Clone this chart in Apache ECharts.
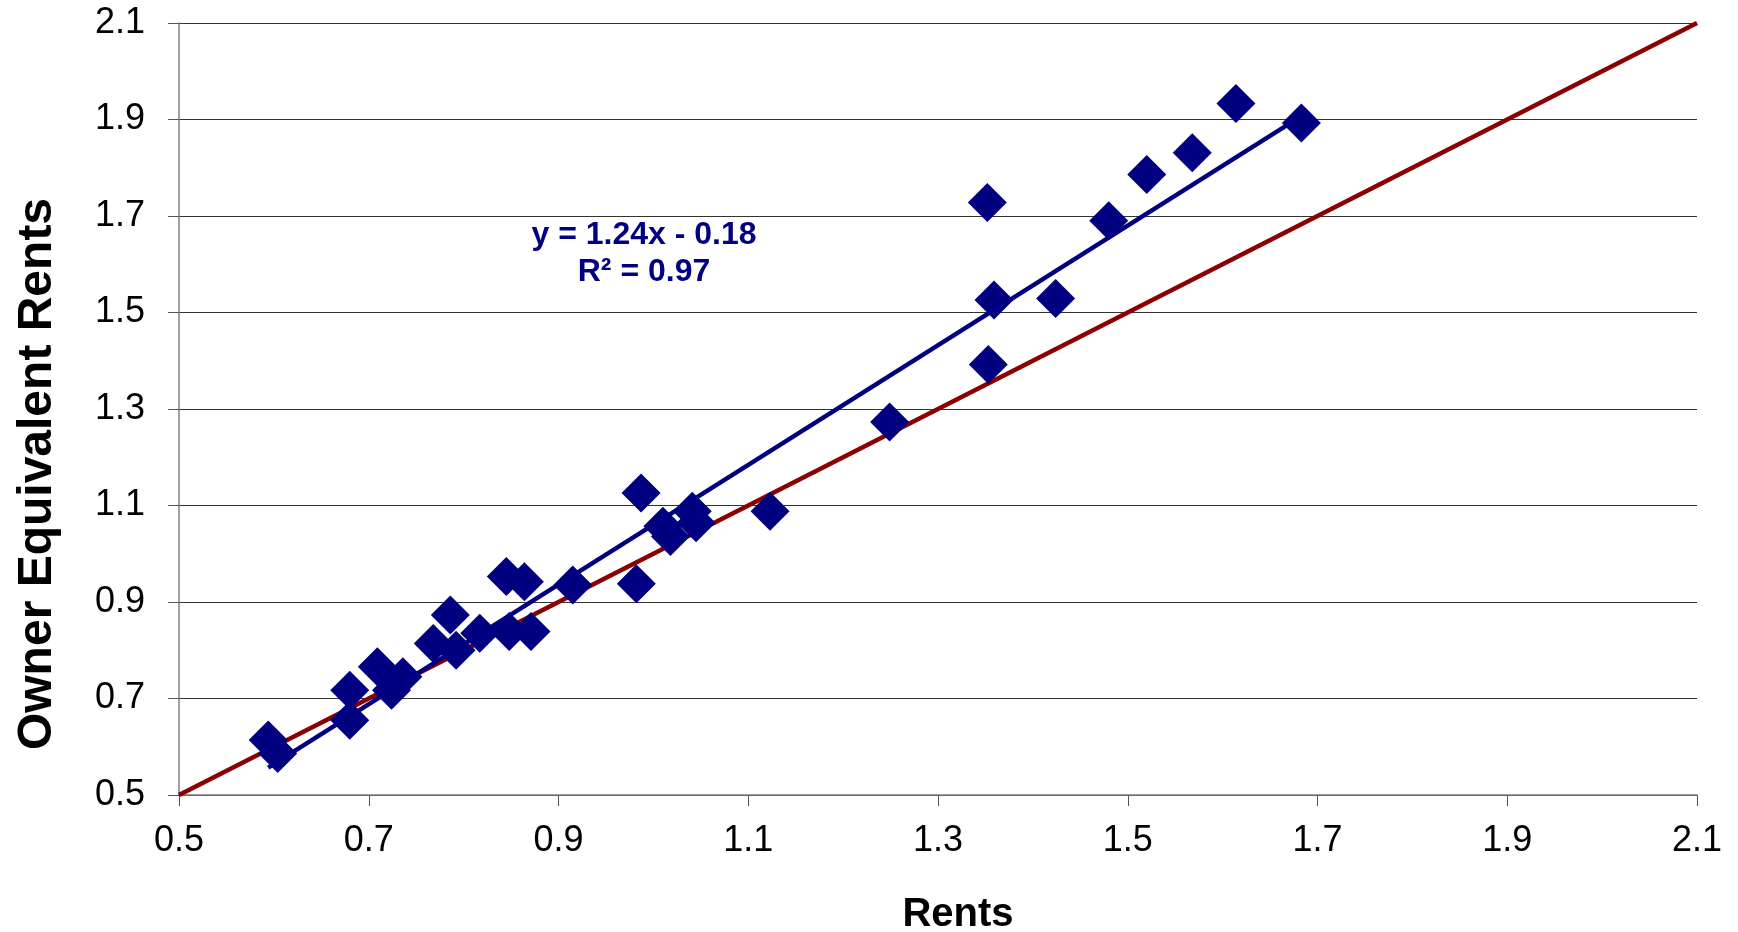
<!DOCTYPE html>
<html>
<head>
<meta charset="utf-8">
<script src="https://cdn.jsdelivr.net/npm/echarts@6/dist/echarts.min.js"></script>
<style>
html,body{margin:0;padding:0;background:#fff;}
#chart{width:1738px;height:932px;}
</style>
</head>
<body>
<div id="chart"></div>
<script>
// Data
var rents = [0.594, 0.604, 0.680, 0.680, 0.709, 0.724, 0.736, 0.768, 0.786, 0.792,
             0.817, 0.845, 0.848, 0.864, 0.871, 0.915, 0.982, 0.987, 1.010, 1.018,
             1.041, 1.045, 1.123, 1.249, 1.352, 1.353, 1.359, 1.424, 1.480, 1.520,
             1.568, 1.614, 1.683];
var oer   = [0.614, 0.586, 0.717, 0.655, 0.766, 0.717, 0.745, 0.814, 0.873, 0.800,
             0.835, 0.953, 0.839, 0.942, 0.839, 0.935, 0.938, 1.126, 1.057, 1.036,
             1.088, 1.064, 1.088, 1.273, 1.728, 1.392, 1.526, 1.529, 1.690, 1.786,
             1.831, 1.933, 1.893];
var trendSlope = 1.24;
var trendIntercept = -0.18;
var identityRange = [0.5, 2.1];
var xTicks = [0.5, 0.7, 0.9, 1.1, 1.3, 1.5, 1.7, 1.9, 2.1];
var yTicks = [0.5, 0.7, 0.9, 1.1, 1.3, 1.5, 1.7, 1.9, 2.1];
var equationText = 'y = 1.24x - 0.18';
var r2Text = 'R² = 0.97';
var xTitle = 'Rents';
var yTitle = 'Owner Equivalent Rents';

var points = rents.map(function (x, i) { return [x, oer[i]]; });
var minX = Math.min.apply(null, rents), maxX = Math.max.apply(null, rents);
var trendData = [[minX, trendSlope * minX + trendIntercept], [maxX, trendSlope * maxX + trendIntercept]];
var identityData = identityRange.map(function (v) { return [v, v]; });

var FONT = '"Liberation Sans", Arial, sans-serif';
var chart = echarts.init(document.getElementById('chart'));
chart.setOption({
  animation: false,
  backgroundColor: '#ffffff',
  grid: {left: 179, right: 41, top: 23, bottom: 137, containLabel: false},
  xAxis: {
    type: 'value', min: xTicks[0], max: xTicks[xTicks.length - 1], interval: 0.2,
    axisLine: {show: true, lineStyle: {color: '#808080', width: 1.5}},
    axisTick: {show: true, inside: false, length: 11, lineStyle: {color: '#555', width: 1}},
    axisLabel: {margin: 28, color: '#000', fontSize: 36, fontFamily: FONT,
      formatter: function (v) { return v.toFixed(1); }},
    splitLine: {show: false}
  },
  yAxis: {
    type: 'value', min: yTicks[0], max: yTicks[yTicks.length - 1], interval: 0.2,
    axisLine: {show: true, lineStyle: {color: '#808080', width: 1.5}},
    axisTick: {show: true, inside: false, length: 11, lineStyle: {color: '#555', width: 1}},
    axisLabel: {margin: 34, color: '#000', fontSize: 36, fontFamily: FONT,
      formatter: function (v) { return v.toFixed(1); }},
    splitLine: {show: true, lineStyle: {color: '#333', width: 1.2}}
  },
  series: [
    {type: 'line', data: identityData, showSymbol: false, symbol: 'none',
      lineStyle: {color: '#8B0000', width: 4.5}, z: 2, silent: true},
    {type: 'line', data: trendData, showSymbol: false, symbol: 'none',
      lineStyle: {color: '#000080', width: 4.5}, z: 3, silent: true},
    {type: 'scatter', data: points, symbol: 'diamond', symbolSize: 39,
      itemStyle: {color: '#000080', opacity: 1}, z: 4}
  ],
  graphic: [
    {type: 'text', x: 38, y: 474, rotation: Math.PI / 2,
      style: {text: yTitle, font: 'bold 48px ' + FONT, fill: '#000', align: 'center', verticalAlign: 'middle'}},
    {type: 'text', x: 958, y: 915,
      style: {text: xTitle, font: 'bold 40px ' + FONT, fill: '#000', align: 'center', verticalAlign: 'middle'}},
    {type: 'text', x: 644, y: 235,
      style: {text: equationText, font: 'bold 32px ' + FONT, fill: '#000080', align: 'center', verticalAlign: 'middle'}},
    {type: 'text', x: 644, y: 272,
      style: {text: r2Text, font: 'bold 32px ' + FONT, fill: '#000080', align: 'center', verticalAlign: 'middle'}}
  ]
});
</script>
</body>
</html>
